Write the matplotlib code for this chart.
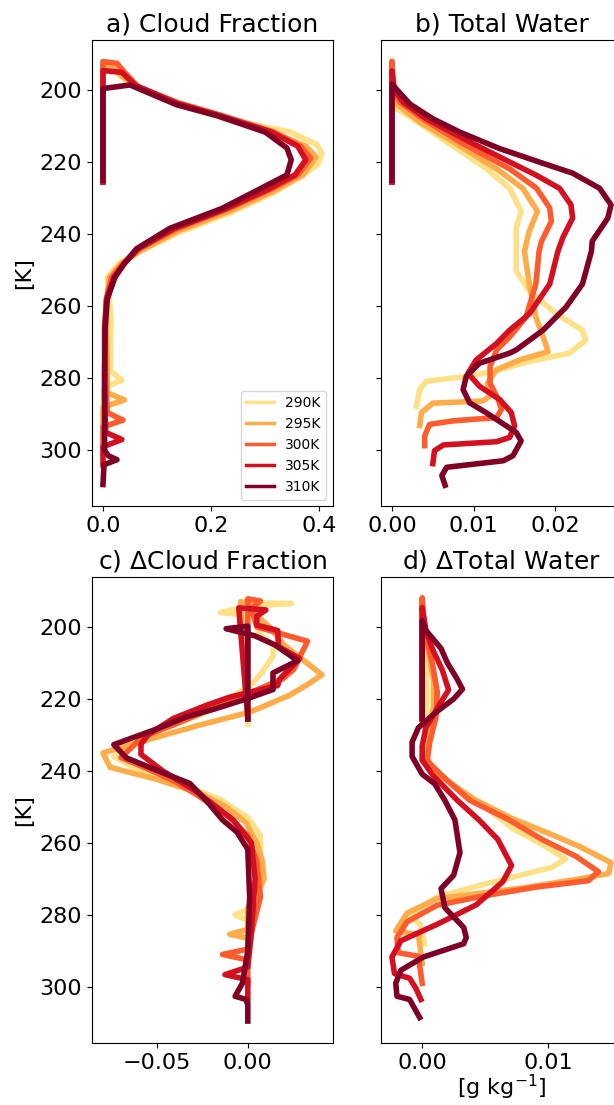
import matplotlib
matplotlib.use('Agg')
import matplotlib.pyplot as plt
import matplotlib.ticker as ticker
import numpy as np

labels = ['290K', '295K', '300K', '305K', '310K']

# a) cloud fraction, one temperature list per run
cf_T = [
    [225.5, 193.5, 194.5, 197, 200, 204.5, 208, 211.5, 215, 217.5, 220.5, 224, 228.5, 234, 239.5, 245, 248, 252, 258, 264, 270, 278, 280.5, 282.5, 288.5],
    [225.5, 193, 194, 196, 199.5, 204, 207.5, 212, 215.5, 218.5, 223.5, 228, 233.5, 239, 244.5, 248, 252, 258, 266, 275, 284, 286, 288, 293.5],
    [225.5, 192, 192.5, 195, 199, 203.5, 207, 211.5, 215.5, 218.8, 223.5, 227.5, 233, 238.5, 244, 248, 252, 258, 266, 280, 289.5, 291.6, 293.5, 299],
    [225.5, 194.5, 195, 198.6, 203.5, 207, 211.5, 215.5, 219.3, 223.5, 227.5, 233, 238.5, 244, 248, 252, 258, 266, 285, 295, 297, 299, 304],
    [225, 199.5, 198.5, 204, 207, 211.6, 216, 219.3, 223.5, 227, 232.8, 238.3, 244, 248, 252, 258, 266, 280, 300, 301.5, 302.6, 304, 309.5],
]
cf = [
    [0, 0, 0.02, 0.04, 0.075, 0.15, 0.23, 0.345, 0.395, 0.405, 0.398, 0.365, 0.315, 0.235, 0.14, 0.065, 0.03, 0.008, 0.012, 0.015, 0.014, 0.014, 0.035, 0.003, 0.0],
    [0, 0, 0.02, 0.035, 0.07, 0.145, 0.225, 0.32, 0.375, 0.394, 0.37, 0.315, 0.235, 0.14, 0.07, 0.035, 0.012, 0.007, 0.006, 0.008, 0.008, 0.04, 0.0, 0.0],
    [0, 0, 0.026, 0.04, 0.065, 0.14, 0.22, 0.315, 0.365, 0.384, 0.36, 0.31, 0.23, 0.135, 0.068, 0.038, 0.016, 0.006, 0.004, 0.005, 0.008, 0.037, 0.0, 0.0],
    [0, 0, 0.035, 0.06, 0.135, 0.215, 0.31, 0.36, 0.375, 0.355, 0.305, 0.225, 0.13, 0.065, 0.04, 0.02, 0.007, 0.003, 0.003, 0.005, 0.035, 0.0, 0.0],
    [0, 0, 0.05, 0.136, 0.21, 0.30, 0.34, 0.348, 0.34, 0.295, 0.22, 0.124, 0.062, 0.04, 0.022, 0.008, 0.004, 0.003, 0.003, 0.01, 0.026, 0.002, 0.0],
]

# b) total water
tw_T = [
    [225.5, 193.5, 200, 205.1, 207.9, 214.3, 221.8, 227.2, 233.6, 238.2, 244.7, 250.2, 255.7, 262.1, 266.6, 269.4, 273, 275.3, 277.6, 279.4, 280.8, 283.1, 287.7],
    [225.5, 193, 200, 204.2, 208.8, 214.3, 221.8, 227.2, 233.6, 239.1, 244.7, 253.8, 263, 268.5, 272.6, 274.9, 277.6, 281.3, 284.9, 286.3, 286.9, 289.5, 293.1],
    [225.5, 191.9, 200, 203.3, 207.9, 214.3, 221.8, 227.2, 232.7, 236.4, 241.9, 244.7, 253.8, 263, 268.5, 272.1, 276.7, 281.3, 285.9, 288.6, 290.9, 291.8, 292.8, 296, 298.7],
    [225.5, 194.6, 200, 203.3, 207.9, 214.3, 219.9, 223.5, 227.2, 231.8, 235.5, 240.9, 244.7, 253.8, 262.1, 266.6, 270.3, 274.9, 278.6, 282.2, 285.9, 289.5, 293.2, 296.4, 297.6, 298.5, 300.1, 303.7],
    [225, 198.3, 203.8, 207.9, 211.6, 216.2, 219.9, 223, 227.2, 231.8, 235.5, 241.9, 244.7, 253.8, 260.2, 266.6, 272.1, 273, 275.8, 279.4, 283.1, 286.8, 289.5, 295, 297.4, 301.5, 302.9, 304.7, 307, 309.7],
]
tw = [
    [0, 0, 0.0001, 0.0006, 0.0026, 0.0067, 0.0116, 0.0144, 0.0158, 0.0152, 0.0152, 0.0152, 0.0168, 0.0201, 0.0233, 0.0237, 0.0217, 0.0168, 0.0132, 0.0095, 0.0042, 0.0034, 0.003],
    [0, 0, 0.0001, 0.0008, 0.0034, 0.0075, 0.0128, 0.016, 0.0178, 0.0168, 0.0162, 0.0168, 0.0176, 0.0185, 0.0191, 0.0156, 0.0128, 0.0117, 0.012, 0.0111, 0.005, 0.0036, 0.0034],
    [0, 0, 0.0002, 0.001, 0.0038, 0.0083, 0.0144, 0.0177, 0.0193, 0.0195, 0.0183, 0.018, 0.0176, 0.0164, 0.0144, 0.0128, 0.012, 0.012, 0.013, 0.0134, 0.0128, 0.0075, 0.0046, 0.004, 0.004],
    [0, 0, 0.0003, 0.0014, 0.0042, 0.0095, 0.0144, 0.0176, 0.0205, 0.0219, 0.0221, 0.0209, 0.0203, 0.0193, 0.0168, 0.0144, 0.0128, 0.0103, 0.0093, 0.0107, 0.0132, 0.0146, 0.015, 0.0144, 0.0128, 0.0063, 0.0052, 0.005],
    [0, 0, 0.0022, 0.005, 0.0083, 0.0132, 0.018, 0.0221, 0.0254, 0.0268, 0.0264, 0.0245, 0.0244, 0.0233, 0.0213, 0.0185, 0.0152, 0.0144, 0.0107, 0.0091, 0.0087, 0.0095, 0.0115, 0.0152, 0.0158, 0.0148, 0.0136, 0.0067, 0.0061, 0.0065],
]

# c) change in cloud fraction
dcf_T = [
    [227, 193.3, 193.5, 194.2, 196, 197, 202, 205, 208, 212.5, 215.5, 220, 224, 228, 232, 236, 240, 244, 248, 253, 258, 266, 275, 278.5, 280, 281.5, 288.5],
    [225.5, 193, 193.5, 196, 200, 205, 209, 213.3, 216, 219, 223.7, 227.2, 230.6, 235, 239, 242.4, 246.3, 250, 254.4, 260, 265, 270, 274.5, 278, 284, 285.4, 286.5, 293.5],
    [225.5, 192.2, 192.8, 195, 200, 204, 208, 211.7, 214.4, 217.5, 220.4, 224, 227.2, 230.5, 236.3, 239.5, 243, 247, 253, 258, 265, 275, 285, 289.5, 291, 292.5, 299],
    [225.5, 194.7, 195.3, 197, 199.5, 201, 205.5, 208.8, 214.5, 216.3, 219.5, 221.8, 225.4, 229.9, 232.6, 235.4, 240, 245.5, 253.6, 260, 270, 285, 294.5, 296.6, 298, 304],
    [225.6, 199.8, 200.5, 202.5, 205, 207.8, 209.4, 212.8, 217.4, 220, 222.9, 225, 228.3, 232.7, 236.4, 240.5, 243.5, 248.2, 253.6, 257, 261.8, 275, 290, 299, 302.6, 303.5, 305, 309.5],
]
dcf = [
    [0, 0, 0.024, 0.0, -0.015, 0.003, 0.0066, 0.014, 0.014, 0.008, 0.003, -0.01, -0.024, -0.045, -0.064, -0.074, -0.06, -0.035, -0.015, 0.0, 0.007, 0.007, 0.004, 0.0, -0.007, 0.0, 0.0],
    [0, -0.004, 0.005, 0.003, 0.012, 0.02, 0.03, 0.041, 0.033, 0.023, 0.001, -0.026, -0.05, -0.080, -0.076, -0.05, -0.026, -0.012, -0.001, 0.005, 0.008, 0.009, 0.005, 0.0, 0.0, -0.01, 0.0, 0.0],
    [0, 0, 0.007, 0.002, 0.005, 0.033, 0.029, 0.0255, 0.0194, 0.005, -0.01, -0.026, -0.041, -0.058, -0.070, -0.055, -0.04, -0.027, -0.01, 0.0, 0.005, 0.007, 0.002, 0.0, -0.014, 0.0, 0.0],
    [0, -0.005, 0.01, 0.005, 0.005, 0.0165, 0.017, 0.0286, 0.0176, 0.0165, -0.01, -0.023, -0.041, -0.055, -0.059, -0.059, -0.047, -0.029, -0.008, 0.002, 0.004, 0.002, 0.0, -0.0126, 0.0, 0.0],
    [0, 0, -0.012, 0.004, 0.015, 0.023, 0.0275, 0.0139, 0.0139, -0.0007, -0.019, -0.034, -0.05, -0.074, -0.067, -0.047, -0.032, -0.023, -0.014, -0.006, 0.0, 0.001, 0.0, -0.003, -0.007, -0.001, 0.0, 0.0],
]

# d) change in total water
dtw_T = [
    [227, 193.5, 200, 210, 220, 230, 236, 240, 244, 250, 256, 261, 264.5, 266.8, 271.8, 275, 280.4, 282.3, 288],
    [225.5, 193, 200, 205, 215, 222, 230, 236, 240, 244, 248, 253, 258, 261, 265.5, 268.5, 270, 272.5, 275.5, 279.5, 284.5, 285.5, 293.5],
    [225.5, 191.9, 201, 210, 218, 225, 232, 237.3, 242.7, 248.2, 253.6, 259, 263.7, 268, 270.5, 272.3, 274.6, 277.3, 281.9, 286.3, 290.5, 291.5, 299],
    [225.5, 194.6, 201, 206, 212, 217.5, 222, 228, 233, 237, 241, 245, 248.2, 253.6, 259, 266.3, 270.8, 277.2, 282.6, 287.2, 291.7, 296.3, 297.6, 300.4, 303.5],
    [225.5, 198.3, 201, 206, 210, 214, 217.3, 220, 224, 228, 232, 236, 240.9, 243.6, 248.2, 253.6, 262.7, 269, 272.7, 278, 283.5, 286.3, 288, 291.7, 295.4, 299, 302.6, 303.5, 308.5],
]
dtw = [
    [0, 0, 0.0, 0.0003, 0.0004, 0.0002, 0.0, 0.0008, 0.0025, 0.005, 0.0072, 0.0098, 0.0114, 0.0103, 0.0046, 0.0012, -0.0012, -0.0002, 0.0002],
    [0, 0, 0.0001, 0.0004, 0.0009, 0.0009, 0.0005, 0.0003, 0.001, 0.0025, 0.0042, 0.007, 0.0105, 0.0125, 0.015, 0.0148, 0.0125, 0.008, 0.0012, -0.0012, -0.0021, -0.0003, 0.0],
    [0, 0, 0.0002, 0.0008, 0.0012, 0.0011, 0.0006, 0.0004, 0.002, 0.0038, 0.0069, 0.0095, 0.0122, 0.014, 0.0132, 0.009, 0.0051, 0.0012, -0.0012, -0.002, -0.0019, -0.0003, 0.0],
    [0, 0, 0.0003, 0.0008, 0.0016, 0.0021, 0.0013, 0.0003, 0.0, 0.0, 0.0008, 0.0019, 0.0028, 0.0045, 0.006, 0.0071, 0.0064, 0.0043, 0.0012, -0.0017, -0.0024, -0.0022, -0.001, -0.0005, -0.0001],
    [0, 0, 0.0003, 0.0015, 0.002, 0.0027, 0.0032, 0.0025, 0.001, -0.0003, -0.0008, -0.0008, 0.0, 0.001, 0.0018, 0.0026, 0.003, 0.0025, 0.0015, 0.0018, 0.0033, 0.0035, 0.0033, 0.0001, -0.0017, -0.0021, -0.002, -0.001, -0.0002],
]

colors = plt.cm.YlOrRd(np.linspace(0.2, 1.0, 5))

fig, axes = plt.subplots(2, 2, figsize=(6.14, 11.05), dpi=100, sharey=True)
# right edge goes past the figure on purpose (reference is cropped)
fig.subplots_adjust(left=92/614, right=622/614, top=1-40/1105, bottom=1-1043/1105,
                    wspace=48/241, hspace=70/466)

panels = [
    (axes[0, 0], cf_T, cf, 'a) Cloud Fraction', 0.2),
    (axes[0, 1], tw_T, tw, 'b) Total Water', 0.01),
    (axes[1, 0], dcf_T, dcf, 'c) $\\Delta$Cloud Fraction', 0.05),
    (axes[1, 1], dtw_T, dtw, 'd) $\\Delta$Total Water', 0.01),
]

for ax, temps, vals, title, step in panels:
    for i in range(len(labels)):
        ax.plot(vals[i], temps[i], color=colors[i], lw=4, label=labels[i])
    ax.set_title(title, fontsize=18)
    ax.xaxis.set_major_locator(ticker.MultipleLocator(step))
    ax.tick_params(labelsize=16)

axes[0, 0].invert_yaxis()
axes[0, 0].set_ylabel('[K]', fontsize=16)
axes[1, 0].set_ylabel('[K]', fontsize=16)
axes[1, 1].set_xlabel('[g kg$^{-1}$]', fontsize=16, labelpad=0)
leg = axes[0, 0].legend(loc='lower right', fontsize=10)
for line in leg.get_lines():
    line.set_linewidth(2.5)

fig.savefig('out.png', dpi=100)
